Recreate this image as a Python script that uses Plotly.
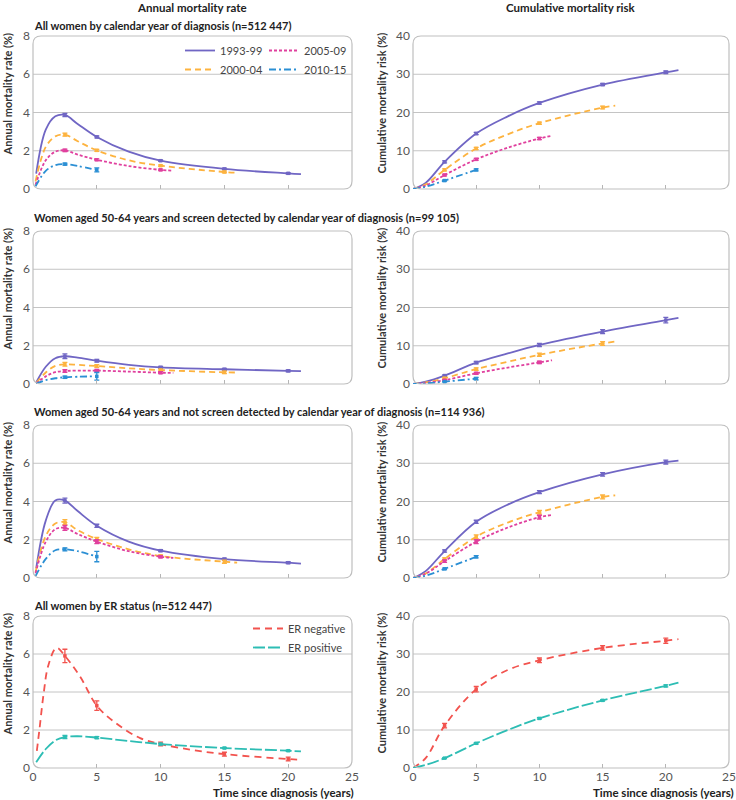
import plotly.graph_objects as go

W, H = 736, 800

# ---------------- data ----------------
ERR_T = [2.5, 5, 10, 15, 20]

# Row 1: all women by calendar year of diagnosis
r1_ann_t_9399 = [0.25, 1, 1.75, 2.5, 3.5, 5, 7.5, 10, 15, 20, 21]
r1_ann_v_9399 = [0.8, 3.1, 3.8, 3.87, 3.4, 2.72, 1.95, 1.48, 1.05, 0.82, 0.78]
r1_ann_t_0004 = [0.2, 1, 1.75, 2.5, 3.5, 5, 7.5, 10, 15, 16]
r1_ann_v_0004 = [0.4, 2.2, 2.75, 2.84, 2.5, 2.02, 1.5, 1.22, 0.89, 0.85]
r1_ann_t_0509 = [0.2, 1, 1.75, 2.5, 3.5, 5, 7.5, 10, 11]
r1_ann_v_0509 = [0.22, 1.5, 1.95, 2.02, 1.8, 1.53, 1.2, 1.0, 0.96]
r1_ann_t_1015 = [0.2, 1, 1.75, 2.5, 3.5, 5]
r1_ann_v_1015 = [0.14, 0.95, 1.25, 1.3, 1.2, 1.0]
r1_ann_e = {"9399": [0.08, 0.05, 0.04, 0.04, 0.04], "0004": [0.08, 0.05, 0.04, 0.04],
            "0509": [0.06, 0.05, 0.04], "1015": [0.05, 0.1]}

r1_cum_t_9399 = [0, 1, 2.5, 5, 7.5, 10, 15, 20, 21]
r1_cum_v_9399 = [0, 1.6, 7.1, 14.5, 19.0, 22.5, 27.3, 30.5, 31.1]
r1_cum_t_0004 = [0, 1, 2.5, 5, 7.5, 10, 15, 16]
r1_cum_v_0004 = [0, 1.2, 5.0, 10.6, 14.3, 17.2, 21.3, 21.8]
r1_cum_t_0509 = [0, 1, 2.5, 5, 7.5, 10, 11]
r1_cum_v_0509 = [0, 0.9, 3.65, 7.75, 10.8, 13.2, 13.9]
r1_cum_t_1015 = [0, 1, 2.5, 5]
r1_cum_v_1015 = [0, 0.6, 2.2, 5.0]
r1_cum_e = {"9399": [0.25, 0.3, 0.3, 0.3, 0.35], "0004": [0.25, 0.3, 0.3, 0.35],
            "0509": [0.2, 0.25, 0.3], "1015": [0.15, 0.25]}

# Row 2: women aged 50-64, screen detected
r2_ann_t_9399 = [0.25, 1, 1.75, 2.5, 3.5, 5, 7.5, 10, 15, 20, 21]
r2_ann_v_9399 = [0.08, 0.9, 1.35, 1.45, 1.38, 1.22, 1.0, 0.87, 0.77, 0.69, 0.67]
r2_ann_t_0004 = [0.25, 1, 1.75, 2.5, 3.5, 5, 7.5, 10, 15, 16]
r2_ann_v_0004 = [0.05, 0.6, 0.95, 1.03, 1.0, 0.94, 0.82, 0.73, 0.61, 0.6]
r2_ann_t_0509 = [0.25, 1, 1.75, 2.5, 3.5, 5, 7.5, 10, 11]
r2_ann_v_0509 = [0.03, 0.4, 0.62, 0.68, 0.7, 0.7, 0.65, 0.59, 0.58]
r2_ann_t_1015 = [0.25, 1, 1.75, 2.5, 3.5, 5]
r2_ann_v_1015 = [0.02, 0.2, 0.3, 0.35, 0.38, 0.4]
r2_ann_e = {"9399": [0.12, 0.07, 0.05, 0.05, 0.05], "0004": [0.1, 0.07, 0.05, 0.06],
            "0509": [0.07, 0.06, 0.05], "1015": [0.06, 0.2]}

r2_cum_t_9399 = [0, 1, 2.5, 5, 7.5, 10, 15, 20, 21]
r2_cum_v_9399 = [0, 0.6, 2.2, 5.6, 8.0, 10.2, 13.7, 16.7, 17.3]
r2_cum_t_0004 = [0, 1, 2.5, 5, 7.5, 10, 15, 16]
r2_cum_v_0004 = [0, 0.4, 1.5, 3.9, 5.8, 7.65, 10.6, 11.1]
r2_cum_t_0509 = [0, 1, 2.5, 5, 7.5, 10, 11]
r2_cum_v_0509 = [0, 0.3, 1.0, 2.8, 4.3, 5.65, 6.2]
r2_cum_t_1015 = [0, 1, 2.5, 5]
r2_cum_v_1015 = [0, 0.15, 0.6, 1.4]
r2_cum_e = {"9399": [0.2, 0.3, 0.4, 0.5, 0.7], "0004": [0.2, 0.3, 0.4, 0.5],
            "0509": [0.15, 0.25, 0.3], "1015": [0.1, 0.3]}

# Row 3: women aged 50-64, not screen detected
r3_ann_t_9399 = [0.25, 1, 1.75, 2.5, 3.5, 5, 7.5, 10, 15, 20, 21]
r3_ann_v_9399 = [0.5, 3.0, 4.05, 4.05, 3.5, 2.73, 1.9, 1.43, 0.99, 0.8, 0.75]
r3_ann_t_0004 = [0.2, 1, 1.75, 2.5, 3.5, 5, 7.5, 10, 15, 16]
r3_ann_v_0004 = [0.3, 2.2, 2.85, 2.92, 2.5, 2.04, 1.5, 1.15, 0.85, 0.8]
r3_ann_t_0509 = [0.2, 1, 1.75, 2.5, 3.5, 5, 7.5, 10, 11]
r3_ann_v_0509 = [0.25, 1.9, 2.55, 2.62, 2.3, 1.9, 1.4, 1.11, 1.05]
r3_ann_t_1015 = [0.2, 1, 1.75, 2.5, 3.5, 5]
r3_ann_v_1015 = [0.1, 1.0, 1.45, 1.5, 1.4, 1.12]
r3_ann_e = {"9399": [0.13, 0.08, 0.05, 0.05, 0.05], "0004": [0.13, 0.08, 0.06, 0.08],
            "0509": [0.13, 0.1, 0.06], "1015": [0.08, 0.27]}

r3_cum_t_9399 = [0, 1, 2.5, 5, 7.5, 10, 15, 20, 21]
r3_cum_v_9399 = [0, 1.8, 7.05, 14.7, 19.2, 22.45, 27.1, 30.3, 30.7]
r3_cum_t_0004 = [0, 1, 2.5, 5, 7.5, 10, 15, 16]
r3_cum_v_0004 = [0, 1.2, 4.96, 10.8, 14.5, 17.2, 21.2, 21.6]
r3_cum_t_0509 = [0, 1, 2.5, 5, 7.5, 10, 11]
r3_cum_v_0509 = [0, 1.1, 4.4, 9.5, 13.2, 15.9, 16.5]
r3_cum_t_1015 = [0, 1, 2.5, 5]
r3_cum_v_1015 = [0, 0.6, 2.4, 5.55]
r3_cum_e = {"9399": [0.3, 0.4, 0.4, 0.45, 0.5], "0004": [0.3, 0.5, 0.5, 0.5],
            "0509": [0.3, 0.5, 0.5], "1015": [0.2, 0.3]}

# Row 4: all women by ER status
r4_ann_t_neg = [0.3, 0.5, 0.85, 1.2, 1.85, 2.5, 3.7, 5, 6.5, 8.4, 10, 12.5, 15, 20, 21]
r4_ann_v_neg = [0.9, 2.0, 4.0, 5.4, 6.33, 5.9, 4.8, 3.28, 2.36, 1.57, 1.26, 0.95, 0.73, 0.47, 0.43]
r4_ann_t_pos = [0.25, 1, 1.75, 2.5, 3.5, 5, 7.5, 10, 15, 20, 21]
r4_ann_v_pos = [0.3, 1.0, 1.45, 1.63, 1.67, 1.6, 1.42, 1.26, 1.05, 0.91, 0.87]
r4_ann_e = {"neg": [0.35, 0.25, 0.1, 0.1, 0.1], "pos": [0.08, 0.05, 0.04, 0.03, 0.03]}

r4_cum_t_neg = [0, 1, 2.5, 5, 7.5, 10, 15, 20, 21]
r4_cum_v_neg = [0, 2.6, 11.15, 20.75, 25.8, 28.35, 31.6, 33.5, 33.9]
r4_cum_t_pos = [0, 1, 2.5, 5, 7.5, 10, 15, 20, 21]
r4_cum_v_pos = [0, 0.8, 2.6, 6.5, 10.0, 13.05, 17.8, 21.6, 22.45]
r4_cum_e = {"neg": [0.6, 0.7, 0.6, 0.6, 0.7], "pos": [0.15, 0.2, 0.2, 0.2, 0.25]}

X_TICKS = [0, 5, 10, 15, 20, 25]
Y_TICKS_ANN = [0, 2, 4, 6, 8]
Y_TICKS_CUM = [0, 10, 20, 30, 40]

ROW_TITLES = [
    "All women by calendar year of diagnosis (n=512 447)",
    "Women aged 50-64 years and screen detected by calendar year of diagnosis (n=99 105)",
    "Women aged 50-64 years and not screen detected by calendar year of diagnosis (n=114 936)",
    "All women by ER status (n=512 447)",
]
COL_TITLES = ["Annual mortality rate", "Cumulative mortality risk"]
Y_TITLES = ["Annual mortality rate (%)", "Cumulative mortality risk (%)"]
X_TITLE = "Time since diagnosis (years)"

# ---------------- styles ----------------
FONT = "Lato, 'Open Sans', sans-serif"
STY = {
    "9399": dict(name="1993-99", color="#7066C4", dash="solid"),
    "0004": dict(name="2000-04", color="#FDB33F", dash="6px,4px"),
    "0509": dict(name="2005-09", color="#E0409E", dash="3px,2px"),
    "1015": dict(name="2010-15", color="#2B8FD4", dash="7px,3px,2px,3px"),
    "neg": dict(name="ER negative", color="#F2534E", dash="7px,5px"),
    "pos": dict(name="ER positive", color="#2DBDB4", dash="12px,3px"),
}
LEG = {"9399": "legend", "0004": "legend", "0509": "legend2", "1015": "legend2",
       "neg": "legend3", "pos": "legend3"}

COLS_PX = [(33, 352), (413, 729)]
ROWS_PX = [(36, 189), (231, 384), (425, 578), (616, 768)]
ROW_TITLE_Y = [25, 217, 411, 605]

g = globals()
panels = []
for r in range(4):
    keys = ["neg", "pos"] if r == 3 else ["9399", "0004", "0509", "1015"]
    for c, kind in enumerate(["ann", "cum"]):
        series = []
        for k in keys:
            t = g[f"r{r+1}_{kind}_t_{k}"]
            v = g[f"r{r+1}_{kind}_v_{k}"]
            e = g[f"r{r+1}_{kind}_e"][k]
            series.append((k, t, v, e))
        panels.append((r, c, series))

fig = go.Figure()
layout = dict(width=W, height=H, autosize=False,
              margin=dict(l=0, r=0, t=0, b=0, pad=0, autoexpand=False),
              paper_bgcolor="white", plot_bgcolor="white",
              font=dict(family=FONT, color="#333"), showlegend=True)
shapes, annotations = [], []


def rounded(x0, x1, y0, y1, r=8):
    rx, ry = r / W, r / H
    return (f"M{x0+rx},{y1} L{x1-rx},{y1} Q{x1},{y1} {x1},{y1-ry} L{x1},{y0+ry} "
            f"Q{x1},{y0} {x1-rx},{y0} L{x0+rx},{y0} Q{x0},{y0} {x0},{y0+ry} "
            f"L{x0},{y1-ry} Q{x0},{y1} {x0+rx},{y1} Z")


for idx, (r, c, series) in enumerate(panels):
    n = idx + 1
    xa, ya = f"xaxis{n if n > 1 else ''}", f"yaxis{n if n > 1 else ''}"
    xr, yr = f"x{n if n > 1 else ''}", f"y{n if n > 1 else ''}"
    x0p, x1p = COLS_PX[c][0] / W, COLS_PX[c][1] / W
    y1p, y0p = 1 - ROWS_PX[r][0] / H, 1 - ROWS_PX[r][1] / H
    bottom = r == 3
    yticks = Y_TICKS_ANN if c == 0 else Y_TICKS_CUM
    layout[xa] = dict(domain=[x0p, x1p], anchor=yr, range=[0, 25], showgrid=False,
                      zeroline=False, showline=False, ticks="inside", ticklen=4,
                      tickcolor="#b5b5b5", tickwidth=1, automargin=False,
                      tickvals=X_TICKS if bottom else X_TICKS[1:-1],
                      showticklabels=bottom, ticklabelstandoff=0,
                      tickfont=dict(size=12, color="#555", family=FONT), fixedrange=True)
    layout[ya] = dict(domain=[y0p, y1p], anchor=xr, range=[0, yticks[-1]], showgrid=False,
                      zeroline=False, showline=False, ticks="", tickvals=yticks,
                      ticklabelstandoff=2, automargin=False,
                      tickfont=dict(size=12, color="#555", family=FONT), fixedrange=True)
    # box
    shapes.append(dict(type="path", xref="paper", yref="paper",
                       path=rounded(x0p, x1p, y0p, y1p), line=dict(color="#bfbfbf", width=1.2),
                       layer="above"))
    # gridlines
    for gv in yticks[1:-1]:
        shapes.append(dict(type="line", xref=f"{xr} domain", yref=yr, x0=0, x1=1, y0=gv, y1=gv,
                           line=dict(color="#c4c4c4", width=1), layer="below"))
    # y title
    annotations.append(dict(text=f"<b>{Y_TITLES[c]}</b>", textangle=-90, xref="paper", yref="paper",
                            x=(7 if c == 0 else 381) / W, y=1 - (ROWS_PX[r][0] - 5) / H,
                            xanchor="center", yanchor="top", showarrow=False,
                            font=dict(size=11, color="#333", family=FONT)))
    for k, t, v, e in series:
        s = STY[k]
        showleg = (c == 0)
        fig.add_trace(go.Scatter(x=t, y=v, mode="lines", line=dict(color=s["color"], width=1.8,
                                 dash=s["dash"], shape="spline"), name=s["name"],
                                 showlegend=showleg and r in (0, 3), legend=LEG[k],
                                 xaxis=xr, yaxis=yr, hoverinfo="skip"))
        et = [tt for tt in ERR_T if tt in t]
        ev = [v[t.index(tt)] for tt in et]
        fig.add_trace(go.Scatter(x=et, y=ev, mode="markers", showlegend=False, legend=LEG[k],
                                 marker=dict(color=s["color"], size=3.5, symbol="square"),
                                 error_y=dict(type="data", array=e[:len(et)], visible=True,
                                              color=s["color"], thickness=1.3, width=2.5),
                                 xaxis=xr, yaxis=yr, hoverinfo="skip"))

# titles
for r in range(4):
    annotations.append(dict(text=f"<b>{ROW_TITLES[r]}</b>", xref="paper", yref="paper",
                            x=32 / W, y=1 - ROW_TITLE_Y[r] / H, xanchor="left",
                            yanchor="middle", showarrow=False,
                            font=dict(size=11, color="#222", family=FONT)))
for c in range(2):
    annotations.append(dict(text=f"<b>{COL_TITLES[c]}</b>", xref="paper", yref="paper",
                            x=(192 if c == 0 else 571) / W, y=1 - 7 / H, xanchor="center",
                            yanchor="middle", showarrow=False,
                            font=dict(size=11.5, color="#222", family=FONT)))
    annotations.append(dict(text=f"<b>{X_TITLE}</b>", xref="paper", yref="paper",
                            x=(356 if c == 0 else 736) / W, y=1 - 792 / H, xanchor="right",
                            yanchor="middle", showarrow=False,
                            font=dict(size=11.5, color="#222", family=FONT)))

leg_common = dict(bgcolor="rgba(0,0,0,0)", borderwidth=0, orientation="v",
                  font=dict(size=11, color="#444", family=FONT), tracegroupgap=0,
                  xanchor="left", yanchor="top", itemclick=False, itemdoubleclick=False)
layout["legend"] = dict(leg_common, x=180 / W, y=1 - 36 / H)
layout["legend2"] = dict(leg_common, x=264 / W, y=1 - 36 / H)
layout["legend3"] = dict(leg_common, x=248 / W, y=1 - 614 / H)
layout["shapes"] = shapes
layout["annotations"] = annotations
fig.update_layout(**layout)
fig.write_html("out.html", config={"displayModeBar": False},
               post_script="document.body.style.margin='0';document.body.style.padding='0';")
